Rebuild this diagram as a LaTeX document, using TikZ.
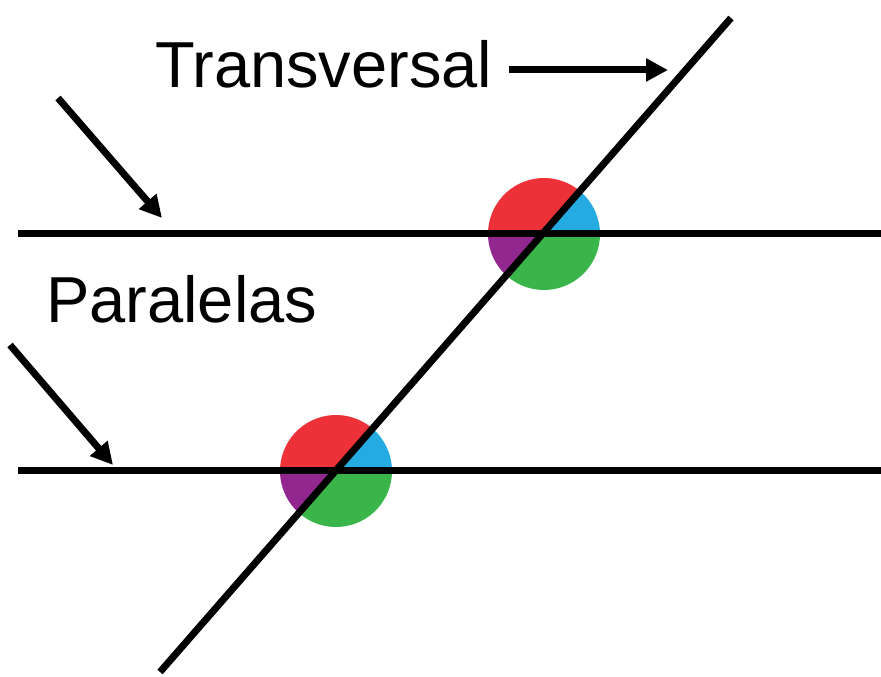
\documentclass[tikz,border=0pt]{standalone}
\usepackage{fontspec}
\setmainfont{Liberation Sans}
\usetikzlibrary{arrows.meta}
\definecolor{cred}{RGB}{236,50,56}
\definecolor{cblue}{RGB}{38,170,226}
\definecolor{cgreen}{RGB}{57,181,74}
\definecolor{cpurple}{RGB}{146,39,143}
\tikzset{
  mainline/.style={line width=7pt, black},
  pointer/.style={line width=7pt, -{Triangle[length=22pt,width=22pt]}},
  lbl/.style={inner sep=0pt, anchor=base west, font=\fontsize{65}{72}\selectfont},
}
\begin{document}
\begin{tikzpicture}[x=1pt,y=1pt]
\useasboundingbox (0,0) rectangle (881,677);
% angle discs
\def\ang{48.8}
\foreach \cx/\cy/\nm in {544/443/U,336/206/L}{
  \coordinate (\nm) at (\cx,\cy);
  \fill[cblue]   (\nm) -- ++(0:56) arc[start angle=0,end angle=\ang,radius=56] -- cycle;
  \fill[cred]    (\nm) -- ++(\ang:56) arc[start angle=\ang,end angle=180,radius=56] -- cycle;
  \fill[cpurple] (\nm) -- ++(180:56) arc[start angle=180,end angle=180+\ang,radius=56] -- cycle;
  \fill[cgreen]  (\nm) -- ++(180+\ang:56) arc[start angle=180+\ang,end angle=360,radius=56] -- cycle;
}
% lines
\coordinate (h1a) at (18,443);  \coordinate (h1b) at (881,443);
\coordinate (h2a) at (18,206);  \coordinate (h2b) at (881,206);
\coordinate (ta) at (160,5);    \coordinate (tb) at (731,659);
\draw[mainline] (h1a) -- (h1b);
\draw[mainline] (h2a) -- (h2b);
\draw[mainline] (ta) -- (tb);
% labels
\node[lbl] (trans) at (155,589) {Transversal};
\node[lbl] (par) at (46,354) {Paralelas};
% pointers
\coordinate (tp1) at (509,607);  \coordinate (tp2) at (668,607);
\draw[pointer] (tp1) -- (tp2);
\coordinate (p1a) at (58,579);  \coordinate (p1b) at (162,459);
\draw[pointer] (p1a) -- (p1b);
\coordinate (p2a) at (10,332); \coordinate (p2b) at (113,212);
\draw[pointer] (p2a) -- (p2b);
\end{tikzpicture}
\end{document}
